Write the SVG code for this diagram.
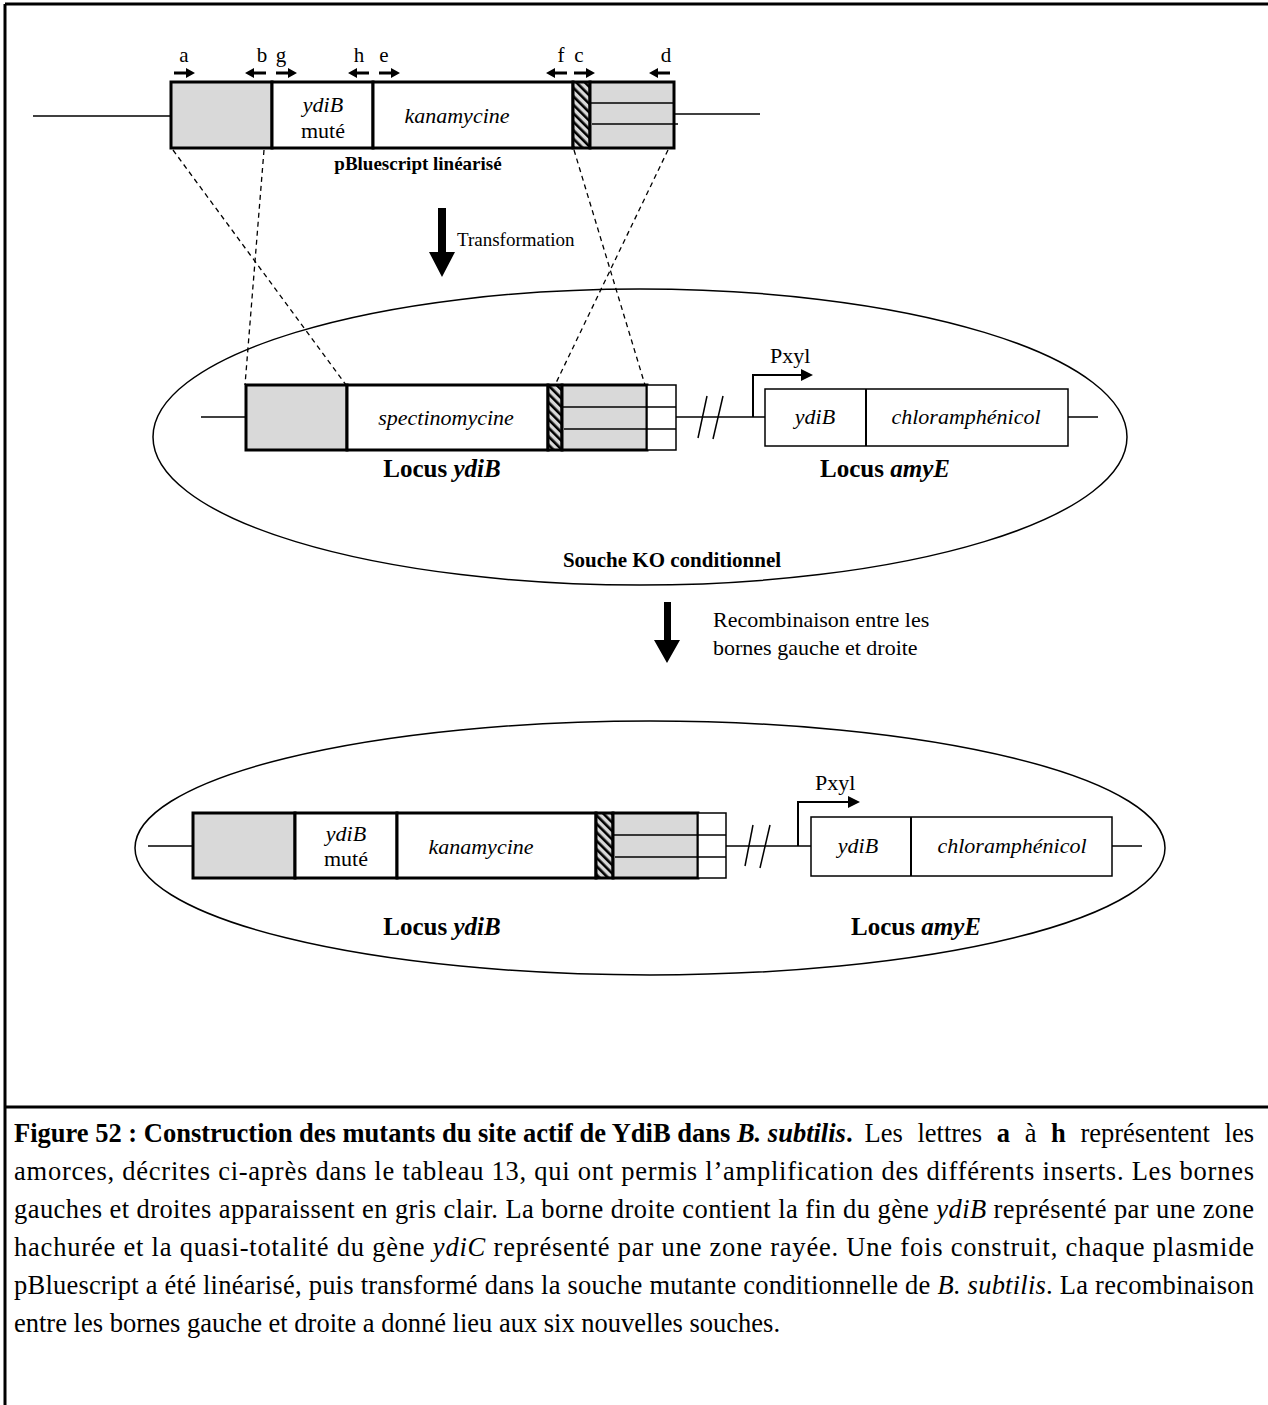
<svg xmlns="http://www.w3.org/2000/svg" width="1268" height="1405" viewBox="0 0 1268 1405">
<style>
text{font-family:"Liberation Serif","Times New Roman",serif;fill:#000}
.lbl{font-size:21px}
.it{font-size:22px;font-style:italic}
.rg{font-size:22px}
.tr{font-size:19px}
.bt{font-size:19px;font-weight:bold}
.locus{font-size:25px;font-weight:bold}
.cap{font-size:26.5px}
.thin{stroke:#000;stroke-width:1.5;fill:none}
.gray{fill:#d9d9d9;stroke:#000;stroke-width:3}
.white{fill:#fff;stroke:#000;stroke-width:3}
.hatch{fill:url(#hatch);stroke:#000;stroke-width:3}
.wbox{fill:#fff;stroke:#000;stroke-width:1.5}
.dash{stroke:#000;stroke-width:1.3;stroke-dasharray:5 4;fill:none}
.frame{stroke:#000;stroke-width:3;fill:none}
</style>
<defs>
<pattern id="hatch" width="6" height="6" patternUnits="userSpaceOnUse" patternTransform="rotate(-45)">
<rect width="6" height="6" fill="#d9d9d9"/><rect width="2.6" height="6" fill="#000"/>
</pattern>
<path id="ra" d="M0,-1.5 H12 V-5 L21,0 L12,5 V1.5 H0 Z" fill="#000"/>
<path id="la" d="M21,-1.5 H9 V-5 L0,0 L9,5 V1.5 H21 Z" fill="#000"/>
</defs>
<rect width="1268" height="1405" fill="#fff"/>
<g id="frame">
<line class="frame" x1="5" y1="4" x2="1268" y2="4"/>
<line class="frame" x1="5" y1="4" x2="5" y2="1405"/>
<line class="frame" x1="5" y1="1107" x2="1268" y2="1107"/>
</g>
<g id="primers">
<text class="lbl" x="184" y="62" text-anchor="middle">a</text>
<use href="#ra" x="174" y="73"/>
<text class="lbl" x="262" y="62" text-anchor="middle">b</text>
<use href="#la" x="245" y="73"/>
<text class="lbl" x="281" y="62" text-anchor="middle">g</text>
<use href="#ra" x="276" y="73"/>
<text class="lbl" x="359" y="62" text-anchor="middle">h</text>
<use href="#la" x="348" y="73"/>
<text class="lbl" x="384" y="62" text-anchor="middle">e</text>
<use href="#ra" x="379" y="73"/>
<text class="lbl" x="561" y="62" text-anchor="middle">f</text>
<use href="#la" x="546" y="73"/>
<text class="lbl" x="579" y="62" text-anchor="middle">c</text>
<use href="#ra" x="574" y="73"/>
<text class="lbl" x="666" y="62" text-anchor="middle">d</text>
<use href="#la" x="649" y="73"/>
</g>
<g id="plasmid">
<line class="thin" x1="33" y1="116" x2="171" y2="116"/>
<line class="thin" x1="674" y1="114" x2="760" y2="114"/>
<rect class="gray" x="171" y="82" width="101" height="66"/>
<rect class="white" x="272" y="82" width="101" height="66"/>
<rect class="white" x="373" y="82" width="200" height="66"/>
<rect class="hatch" x="573" y="82" width="17" height="66"/>
<rect class="gray" x="590" y="82" width="84" height="66"/>
<line class="thin" x1="590" y1="103" x2="674" y2="103"/>
<line class="thin" x1="592" y1="124" x2="678" y2="124"/>
<text class="it" x="323" y="112" text-anchor="middle">ydiB</text>
<text class="rg" x="323" y="138" text-anchor="middle">muté</text>
<text class="it" x="457" y="123" text-anchor="middle">kanamycine</text>
<text class="bt" x="418" y="170" text-anchor="middle">pBluescript linéarisé</text>
</g>
<g id="connectors">
<line class="dash" x1="173" y1="150" x2="346" y2="385"/>
<line class="dash" x1="264" y1="150" x2="245" y2="385"/>
<line class="dash" x1="574" y1="150" x2="645" y2="385"/>
<line class="dash" x1="668" y1="150" x2="555" y2="385"/>
<path d="M438,208 H446 V252 H455 L442,277 L429,252 H438 Z" fill="#000"/>
<path d="M664,602 H671 V640 H680 L667,663 L654,640 H664 Z" fill="#000"/>
</g>
<g id="step-labels">
<text class="tr" x="457" y="246">Transformation</text>
<text class="rg" x="713" y="627">Recombinaison entre les</text>
<text class="rg" x="713" y="655">bornes gauche et droite</text>
</g>
<g id="strain-ko">
<ellipse class="thin" cx="640" cy="437" rx="487" ry="148"/>
<line class="thin" x1="201" y1="417" x2="246" y2="417"/>
<rect class="gray" x="246" y="385" width="101" height="65"/>
<rect class="white" x="347" y="385" width="201" height="65"/>
<rect class="hatch" x="548" y="385" width="14" height="65"/>
<rect class="gray" x="562" y="385" width="85" height="65"/>
<rect class="wbox" x="647" y="385" width="29" height="65"/>
<line class="thin" x1="562" y1="407" x2="676" y2="407"/>
<line class="thin" x1="564" y1="429" x2="676" y2="429"/>
<text class="it" x="446" y="425" text-anchor="middle">spectinomycine</text>
<line class="thin" x1="676" y1="417" x2="765" y2="417"/>
<line class="thin" x1="698" y1="438" x2="707" y2="396"/>
<line class="thin" x1="713" y1="439" x2="723" y2="396"/>
<path d="M753,417 V375 H802" fill="none" stroke="#000" stroke-width="2"/>
<path d="M801,369 L813,375 L801,381 Z" fill="#000"/>
<text class="rg" x="770" y="363">Pxyl</text>
<rect class="wbox" x="765" y="389" width="303" height="57"/>
<line x1="866" y1="389" x2="866" y2="446" stroke="#000" stroke-width="2"/>
<line class="thin" x1="1068" y1="417" x2="1098" y2="417"/>
<text class="it" x="815" y="424" text-anchor="middle">ydiB</text>
<text class="it" x="966" y="424" text-anchor="middle">chloramphénicol</text>
<text class="locus" x="442" y="477" text-anchor="middle">Locus <tspan font-style="italic">ydiB</tspan></text>
<text class="locus" x="885" y="477" text-anchor="middle">Locus <tspan font-style="italic">amyE</tspan></text>
<text class="bt" x="672" y="567" text-anchor="middle" style="font-size:21px">Souche KO conditionnel</text>
</g>
<g id="strain-mutant">
<ellipse class="thin" cx="650" cy="848" rx="515" ry="127"/>
<line class="thin" x1="148" y1="846" x2="193" y2="846"/>
<rect class="gray" x="193" y="813" width="102" height="65"/>
<rect class="white" x="295" y="813" width="102" height="65"/>
<rect class="white" x="397" y="813" width="199" height="65"/>
<rect class="hatch" x="596" y="813" width="17" height="65"/>
<rect class="gray" x="613" y="813" width="85" height="65"/>
<rect class="wbox" x="698" y="813" width="28" height="65"/>
<line class="thin" x1="613" y1="835" x2="726" y2="835"/>
<line class="thin" x1="615" y1="857" x2="726" y2="857"/>
<text class="it" x="346" y="841" text-anchor="middle">ydiB</text>
<text class="rg" x="346" y="866" text-anchor="middle">muté</text>
<text class="it" x="481" y="854" text-anchor="middle">kanamycine</text>
<line class="thin" x1="726" y1="846" x2="811" y2="846"/>
<line class="thin" x1="745" y1="866" x2="753" y2="825"/>
<line class="thin" x1="760" y1="868" x2="770" y2="825"/>
<path d="M798,846 V802 H849" fill="none" stroke="#000" stroke-width="2"/>
<path d="M848,796 L860,802 L848,808 Z" fill="#000"/>
<text class="rg" x="815" y="790">Pxyl</text>
<rect class="wbox" x="811" y="817" width="301" height="59"/>
<line x1="911" y1="817" x2="911" y2="876" stroke="#000" stroke-width="2"/>
<line class="thin" x1="1112" y1="846" x2="1142" y2="846"/>
<text class="it" x="858" y="853" text-anchor="middle">ydiB</text>
<text class="it" x="1012" y="853" text-anchor="middle">chloramphénicol</text>
<text class="locus" x="442" y="935" text-anchor="middle">Locus <tspan font-style="italic">ydiB</tspan></text>
<text class="locus" x="916" y="935" text-anchor="middle">Locus <tspan font-style="italic">amyE</tspan></text>
</g>
<g id="caption">
<text class="cap" x="14" y="1142" font-weight="bold">Figure 52 : Construction des mutants du site actif de YdiB dans <tspan font-style="italic">B. subtilis</tspan>.</text>
<text class="cap" x="1254" y="1142" text-anchor="end" word-spacing="8">Les lettres <tspan font-weight="bold">a</tspan> à <tspan font-weight="bold">h</tspan> représentent les</text>
<text class="cap" x="14" y="1180" textLength="1240" lengthAdjust="spacing">amorces, décrites ci-après dans le tableau 13, qui ont permis l’amplification des différents inserts. Les bornes</text>
<text class="cap" x="14" y="1218" textLength="1240" lengthAdjust="spacing">gauches et droites apparaissent en gris clair. La borne droite contient la fin du gène <tspan font-style="italic">ydiB</tspan> représenté par une zone</text>
<text class="cap" x="14" y="1256" textLength="1240" lengthAdjust="spacing">hachurée et la quasi-totalité du gène <tspan font-style="italic">ydiC</tspan> représenté par une zone rayée. Une fois construit, chaque plasmide</text>
<text class="cap" x="14" y="1294" textLength="1240" lengthAdjust="spacing">pBluescript a été linéarisé, puis transformé dans la souche mutante conditionnelle de <tspan font-style="italic">B. subtilis</tspan>. La recombinaison</text>
<text class="cap" x="14" y="1332">entre les bornes gauche et droite a donné lieu aux six nouvelles souches.</text>
</g>
</svg>
